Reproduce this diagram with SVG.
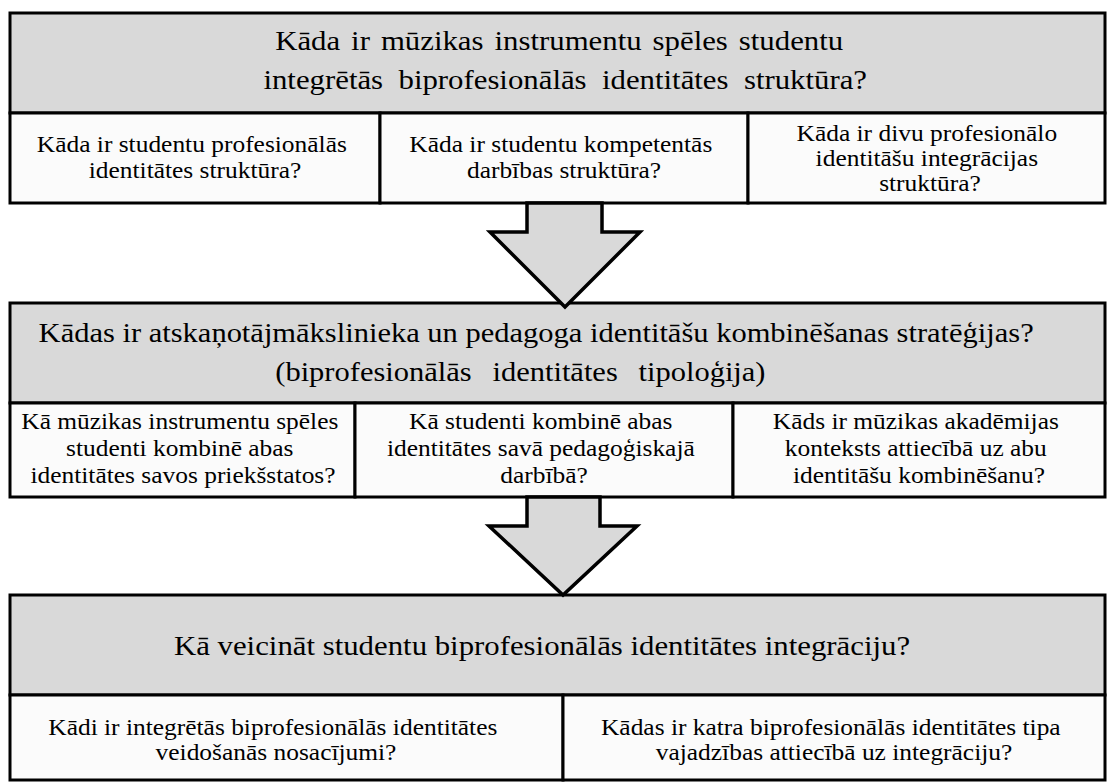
<svg xmlns="http://www.w3.org/2000/svg" width="1107" height="783" viewBox="0 0 1107 783">
  <style>
    .band { fill: #d9d9d9; stroke: #000; stroke-width: 3; }
    .cell { fill: #fbfbfb; stroke: #000; stroke-width: 3; }
    .arrow { fill: #d9d9d9; stroke: #000; stroke-width: 3.5; stroke-linejoin: miter; }
    .hd { font-size: 28px; fill: #000; text-anchor: middle; }
    .sub { font-size: 24px; fill: #000; text-anchor: middle; }
  </style>

  <rect width="1107" height="783" fill="#fff"/>

  <!-- Level 1 -->
  <g id="q1">
    <rect class="band" x="10" y="13" width="1095" height="100"/>
    <text class="hd" font-family="'Liberation Serif', serif" transform="translate(563,0) scale(1.1,1)">
      <tspan x="0" y="50" word-spacing="3">Kāda ir mūzikas instrumentu spēles studentu</tspan>
      <tspan x="2" y="89" word-spacing="7">integrētās biprofesionālās identitātes struktūra?</tspan>
    </text>
  </g>
  <g id="q1a">
    <rect class="cell" x="10" y="113" width="370" height="90"/>
    <text class="sub" font-family="'Liberation Serif', serif" transform="translate(195,0) scale(1.06,1)">
      <tspan x="0" y="152">Kāda ir studentu profesionālās</tspan>
      <tspan x="0" y="178">identitātes struktūra?</tspan>
    </text>
  </g>
  <g id="q1b">
    <rect class="cell" x="380" y="113" width="368" height="90"/>
    <text class="sub" font-family="'Liberation Serif', serif" transform="translate(564,0) scale(1.06,1)">
      <tspan x="0" y="152">Kāda ir studentu kompetentās</tspan>
      <tspan x="0" y="178">darbības struktūra?</tspan>
    </text>
  </g>
  <g id="q1c">
    <rect class="cell" x="748" y="113" width="357" height="90"/>
    <text class="sub" font-family="'Liberation Serif', serif" transform="translate(930,0) scale(1.06,1)">
      <tspan x="0" y="141">Kāda ir divu profesionālo</tspan>
      <tspan x="0" y="166">identitāšu integrācijas</tspan>
      <tspan x="0" y="191">struktūra?</tspan>
    </text>
  </g>

  <!-- Level 2 -->
  <g id="q2">
    <rect class="band" x="10" y="303" width="1095" height="100"/>
    <text class="hd" font-family="'Liberation Serif', serif" transform="translate(540,0) scale(1.09,1)">
      <tspan x="0" y="342">Kādas ir atskaņotājmākslinieka un pedagoga identitāšu kombinēšanas stratēģijas?</tspan>
      <tspan x="-18" y="381" word-spacing="12">(biprofesionālās identitātes tipoloģija)</tspan>
    </text>
  </g>
  <g id="q2a">
    <rect class="cell" x="10" y="403" width="345" height="94"/>
    <text class="sub" font-family="'Liberation Serif', serif" transform="translate(183,0) scale(1.06,1)">
      <tspan x="0" y="429">Kā mūzikas instrumentu spēles</tspan>
      <tspan x="0" y="456">studenti kombinē abas</tspan>
      <tspan x="0" y="483">identitātes savos priekšstatos?</tspan>
    </text>
  </g>
  <g id="q2b">
    <rect class="cell" x="355" y="403" width="378" height="94"/>
    <text class="sub" font-family="'Liberation Serif', serif" transform="translate(544,0) scale(1.06,1)">
      <tspan x="0" y="429">Kā studenti kombinē abas</tspan>
      <tspan x="0" y="456">identitātes savā pedagoģiskajā</tspan>
      <tspan x="0" y="483">darbībā?</tspan>
    </text>
  </g>
  <g id="q2c">
    <rect class="cell" x="733" y="403" width="372" height="94"/>
    <text class="sub" font-family="'Liberation Serif', serif" transform="translate(919,0) scale(1.06,1)">
      <tspan x="0" y="429">Kāds ir mūzikas akadēmijas</tspan>
      <tspan x="0" y="456">konteksts attiecībā uz abu</tspan>
      <tspan x="0" y="483">identitāšu kombinēšanu?</tspan>
    </text>
  </g>

  <!-- Level 3 -->
  <g id="q3">
    <rect class="band" x="10" y="595" width="1095" height="100"/>
    <text class="hd" font-family="'Liberation Serif', serif" transform="translate(542,0) scale(1.1,1)">
      <tspan x="0" y="655">Kā veicināt studentu biprofesionālās identitātes integrāciju?</tspan>
    </text>
  </g>
  <g id="q3a">
    <rect class="cell" x="10" y="695" width="553" height="85"/>
    <text class="sub" font-family="'Liberation Serif', serif" transform="translate(276,0) scale(1.06,1)">
      <tspan x="0" y="735">Kādi ir integrētās biprofesionālās identitātes</tspan>
      <tspan x="0" y="760">veidošanās nosacījumi?</tspan>
    </text>
  </g>
  <g id="q3b">
    <rect class="cell" x="563" y="695" width="542" height="85"/>
    <text class="sub" font-family="'Liberation Serif', serif" transform="translate(834,0) scale(1.06,1)">
      <tspan x="0" y="735">Kādas ir katra biprofesionālās identitātes tipa</tspan>
      <tspan x="0" y="760">vajadzības attiecībā uz integrāciju?</tspan>
    </text>
  </g>

  <!-- Block arrows between levels -->
  <g id="connectors">
    <polygon class="arrow" points="527,203 602,203 602,232 640,232 565,307 490,232 527,232"/>
    <polygon class="arrow" points="527,497 600,497 600,526 637,526 563,595 489,526 527,526"/>
  </g>
</svg>
